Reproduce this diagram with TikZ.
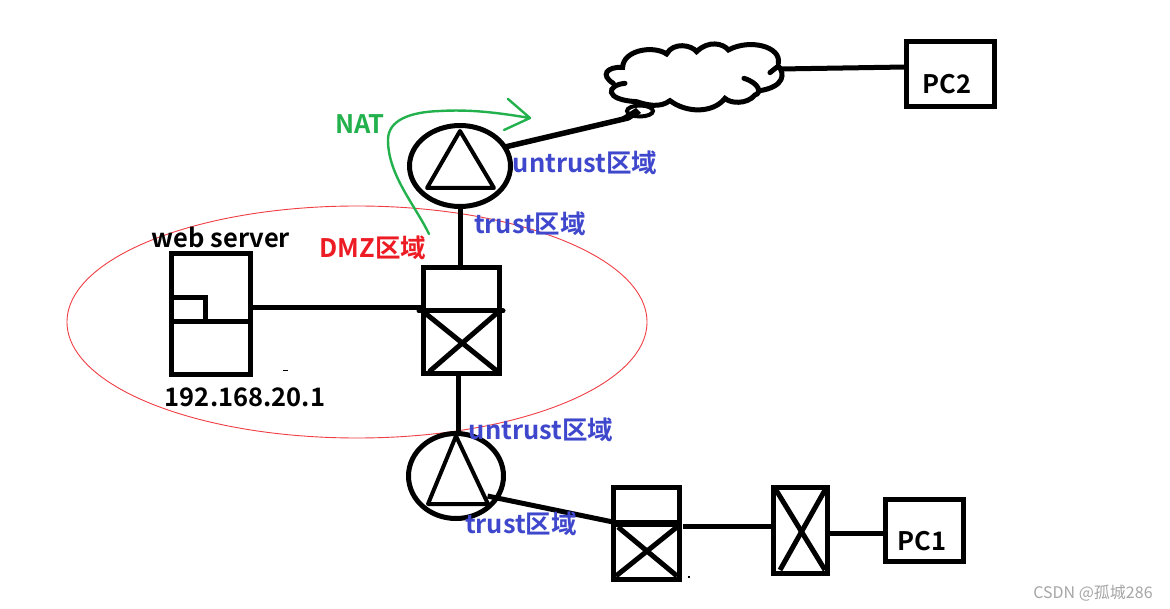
\documentclass[tikz,border=0pt]{standalone}
\usepackage{fontspec}
\setmainfont{Noto Sans CJK SC}[BoldFont={Noto Sans CJK SC Bold}]
\usetikzlibrary{shapes.geometric}
\definecolor{zoneblue}{RGB}{63,72,204}
\definecolor{zonered}{RGB}{237,28,36}
\definecolor{natgreen}{RGB}{34,177,76}
\tikzset{
  wire/.style={line width=5pt,black},
  box/.style={draw=black,line width=5pt,fill=none,rectangle,inner sep=0pt,outer sep=0pt},
  routerbody/.style={draw=black,line width=5pt,ellipse,inner sep=0pt,outer sep=0pt},
  thin line/.style={line width=4pt,black},
  lab/.style={font=\bfseries\fontsize{25.5}{27}\selectfont,inner sep=0pt},
  zonelab/.style={lab,text=zoneblue},
}
\begin{document}
\begin{tikzpicture}[x=1pt,y=-1pt]
\useasboundingbox (0,0) rectangle (1170,609);
\fill[white] (0,0) rectangle (1170,609);
% DMZ ellipse
\node[draw=zonered!85!white,line width=0.9pt,ellipse,minimum width=580pt,minimum height=232pt,inner sep=0pt] (dmz) at (357,322) {};
% Routers
\node[routerbody,minimum width=101pt,minimum height=81pt] (r1) at (460,166) {};
\node[routerbody,minimum width=95pt,minimum height=85pt] (r2) at (456,476) {};
\draw[thin line,line join=round] (460,131) -- (427,188) -- (494,188) -- cycle;
\draw[thin line,line join=round] (456,436) -- (428,504) -- (488,504) -- cycle;
% Server
\node[box,minimum width=79pt,minimum height=121pt] (srv) at (210.5,314.5) {};
\draw[wire] (171,322) -- (250,322);
\draw[wire] (171,297.5) -- (205.5,297.5) -- (205.5,322);
% Switch 1
\node[box,minimum width=76pt,minimum height=106pt] (sw1) at (461,321) {};
\draw[wire,line cap=round] (419,311) -- (503,311);
\draw[wire,line cap=round] (425,313) -- (497,371);
\draw[wire,line cap=round] (497,313) -- (430,371);
% Switch 2
\node[box,minimum width=66pt,minimum height=92pt] (sw2) at (646,533) {};
\draw[line width=7pt] (613,523) -- (680,523);
\draw[wire] (618,527) -- (677,576);
\draw[wire] (677,527) -- (616,576);
% Switch 3
\node[box,minimum width=54pt,minimum height=86pt] (sw3) at (800,530) {};
\draw[wire] (776,490) -- (825,570);
\draw[wire] (825,490) -- (780,570);
% PCs
\node[box,minimum width=88pt,minimum height=65pt] (pc2) at (950,74.5) {};
\node[box,minimum width=78pt,minimum height=62pt] (pc1) at (924,530) {};
\node[lab,text=black] (pc2t) at (947,84) {PC2};
\node[lab,text=black] (pc1t) at (922,541) {PC1};
% Cloud
\begin{scope}[shift={(320,30)},x=0.3333pt,y=-0.3333pt]
\draw[wire,line cap=round,fill=white]
 (950,215) .. controls (850,210) and (860,165) .. (915,160)
 (880,160) .. controls (840,135) and (860,110) .. (908,112)
 .. controls (910,60) and (1000,45) .. (1040,72)
 .. controls (1060,35) and (1115,45) .. (1130,65)
 .. controls (1165,30) and (1210,40) .. (1225,60)
 .. controls (1290,25) and (1385,50) .. (1375,100)
 (1350,128) -- (1375,108) .. controls (1395,130) and (1395,170) .. (1320,182)
 (1272,145) .. controls (1320,160) and (1325,190) .. (1305,195)
 .. controls (1280,225) and (1230,220) .. (1215,205)
 .. controls (1180,250) and (1100,250) .. (1050,212)
 .. controls (1020,235) and (980,225) .. (950,215);
\end{scope}
\node[draw=black,line width=4pt,ellipse,minimum width=26pt,minimum height=11pt,inner sep=0pt] (blob) at (640,111) {};
% Connectors
\coordinate (r1out) at (505,147);
\coordinate (blobin) at (628,118);
\draw[line width=5.5pt,line cap=round] (r1out) -- (blobin);
\fill (615,121) -- (636,108) -- (641,113) -- (630,120) -- cycle;
\draw[wire] (r1.south) -- (sw1.north -| r1.south);
\draw[wire] (srv.east |- 0,308) -- (sw1.west |- 0,308);
\draw[wire] (sw1.south -| r2.north) ++(2,0) -- (458,435);
\draw[wire] (r2.south east) ++(-2,-10) coordinate (r2out) -- (sw2.west |- 0,522);
\coordinate (sw2out) at (683,526);
\draw[wire] (sw2out) -- (sw3.west |- sw2out);
\coordinate (sw3out) at (827,533);
\draw[wire] (sw3out) -- (pc1.west |- sw3out);
\coordinate (cloudout) at (780,69);
\draw[wire] (cloudout) -- (pc2.west |- 0,67);
% NAT arrow
\coordinate (natstart) at (429,234);
\coordinate (nattip) at (530,118);
\draw[natgreen,line width=2.4pt,line cap=round,line join=round]
 (natstart) .. controls (415,205) and (388,175) .. (388,140)
 .. controls (388,120) and (410,112) .. (440,111)
 .. controls (475,109) and (505,114) .. (nattip)
 (508,99) -- (nattip) -- (504,130);
% Specks
\fill (283,370) rectangle (288,371.5);
\fill (688,576) rectangle (690,578);
% Labels
\node[lab,text=natgreen] (natl) at (360,124) {NAT};
\node[zonelab] (l1) at (585,163) {untrust区域};
\node[zonelab] (l2) at (530,224) {trust区域};
\node[lab,text=zonered] (l3) at (373,248) {DMZ区域};
\node[lab,text=black] (l4) at (221,238) {web server};
\node[lab,text=black] (l5) at (245,397) {192.168.20.1};
\node[zonelab] (l6) at (541,430) {untrust区域};
\node[zonelab] (l7) at (521,524) {trust区域};
\node[font=\fontsize{16}{18}\selectfont,text=black!35,inner sep=0pt] (wm) at (1093,593) {CSDN @孤城286};
\end{tikzpicture}
\end{document}
